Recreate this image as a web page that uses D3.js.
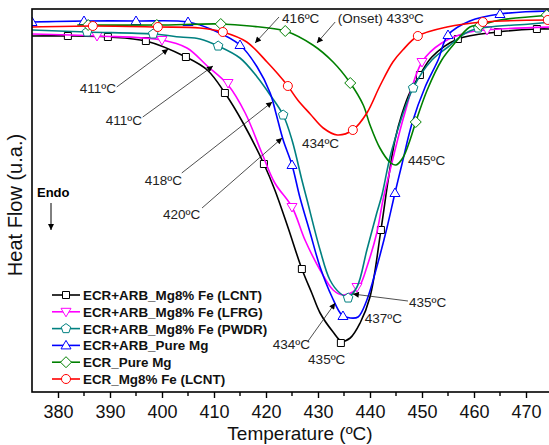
<!DOCTYPE html>
<html>
<head>
<meta charset="utf-8">
<script src="https://cdn.jsdelivr.net/npm/d3@7/dist/d3.min.js"></script>
<style>
  body { margin: 0; background: #fff; }
  svg { display: block; font-family: Arial, "Liberation Sans", sans-serif; }
</style>
</head>
<body>
<script>
// DSC curves: [temperature ºC, heat flow (u.a.)]
var lcntCurve = [[375,35.6],[381.9,35.6],[389.6,35.5],[396.9,35.1],[404.6,33.5],[408.7,32.2],[412.1,29.9],[415.6,26.9],[419.6,22.8],[421.7,20.2],[424.2,16.5],[426.9,12.3],[428.8,9.9],[430.4,7.9],[432.9,6.0],[434.5,5.1],[436.2,5.4],[438.1,6.9],[440,9.5],[442.1,16.2],[443.5,21.2],[444.8,25.2],[446.2,27.9],[447.7,30.0],[449.6,31.7],[451.9,33.5],[456.9,35.3],[464.6,36.0],[472.1,36.3],[475,36.3]];
var lfrgCurve = [[375,35.8],[387.5,35.6],[400,35.2],[404.8,34.4],[408.7,32.6],[412.7,30.7],[416,27.9],[419.2,23.9],[421.7,20.9],[425,18.5],[427.5,15.2],[430.4,12.2],[432.9,10.2],[434.8,9.7],[436.7,10.0],[438.1,10.7],[439.4,12.5],[441.3,15.9],[442.5,19.2],[444.2,22.9],[446.7,27.9],[450,33.0],[453.8,34.9],[459.2,36.0],[465,36.3],[475,36.5]];
var pwdrCurve = [[375,36.2],[385.6,36.0],[398.3,35.8],[403.5,35.5],[407.3,35.3],[410.8,34.6],[415,33.4],[418.3,31.5],[420.8,29.7],[423.3,27.7],[425,25.2],[426.9,21.2],[427.9,19.2],[430.4,14.2],[432.3,11.2],[434.2,9.9],[435.8,9.5],[437.5,10.5],[439.4,14.2],[441.3,17.9],[442.3,19.7],[444.2,24.2],[448.3,30.4],[451.9,33.2],[455,34.5],[459.2,36.1],[470.8,36.8],[475,37.0]];
var arbPureCurve = [[375,37.0],[385,37.1],[395,37.1],[405,37.0],[409.8,36.2],[415,34.7],[418.3,32.5],[420.8,29.9],[421.9,27.9],[423.3,25.2],[425,22.7],[426.5,19.5],[428.5,15.9],[430.4,12.5],[432.7,9.5],[434.6,7.7],[436.2,7.4],[437.7,7.5],[439.4,9.2],[441.3,12.5],[443.3,16.5],[444.8,19.9],[446.2,22.9],[448.1,26.9],[450.6,30.5],[453.1,33.2],[455,35.7],[459.2,37.1],[465,37.8],[475,38.1]];
var ecrPureCurve = [[383.7,36.7],[399,36.7],[411.3,36.8],[416.9,36.6],[423.7,36.1],[429,34.7],[432.9,33.0],[436.2,30.9],[438.7,28.7],[440,26.7],[441.9,24.4],[443.8,23.0],[445,22.7],[446.3,23.4],[447.7,25.2],[448.8,27.0],[451,30.2],[453.8,33.2],[456,34.7],[459.2,36.5],[461.2,36.7],[465,37.2],[475,37.7]];
var ecrLcntCurve = [[375,36.5],[386.7,36.6],[399.2,36.5],[407.3,36.4],[411.7,36.0],[416.3,35.0],[420.2,33.0],[422.3,31.8],[424.2,30.6],[426.1,29.2],[428.5,27.8],[431,26.4],[433.7,25.7],[436.7,26.2],[439.4,27.9],[441.9,30.6],[444.4,33.0],[446.3,34.2],[449.2,35.6],[454.8,36.5],[461.7,37.0],[475,37.2]];

// symbol positions
var lcntMarks = [[381.9,35.6],[389.6,35.5],[396.9,35.1],[404.6,33.5],[412.1,29.9],[419.6,22.8],[426.9,12.3],[434.4,4.9],[442.1,16.2],[449.6,31.7],[456.9,35.3],[464.6,36.0],[472.1,36.3]];
var lfrgMarks = [[387.5,35.6],[400,35.2],[412.7,30.9],[425,18.5],[437.5,10.5],[450,33.0],[462.5,36.2]];
var pwdrMarks = [[385.6,36.0],[398.3,35.8],[410.8,34.6],[423.3,27.7],[435.8,9.4],[448.3,30.4],[460.8,36.4]];
var arbPureMarks = [[375,37.0],[385,37.1],[395,37.1],[405,37.0],[415,34.7],[425,22.7],[434.8,7.6],[444.8,19.9],[455,35.7],[465,37.8]];
var ecrPureMarks = [[385.8,36.7],[399,36.7],[411.3,36.8],[423.7,36.1],[436.2,30.9],[448.8,27.0],[461.2,36.7],[474,37.7]];
var ecrLcntMarks = [[386.7,36.6],[399.2,36.5],[411.7,36.0],[424.2,30.6],[436.7,26.2],[449.2,35.6],[461.7,37.0],[474.2,37.2]];

var seriesNames = ["ECR+ARB_Mg8% Fe (LCNT)", "ECR+ARB_Mg8% Fe (LFRG)", "ECR+ARB_Mg8% Fe (PWDR)",
                   "ECR+ARB_Pure Mg", "ECR_Pure Mg", "ECR_Mg8% Fe (LCNT)"];
var xTicks = [380, 390, 400, 410, 420, 430, 440, 450, 460, 470];
var xMinorTicks = [385, 395, 405, 415, 425, 435, 445, 455, 465];

// peak / onset labels: text anchor and optional arrow [from, to]
var notes = [
    {t: "411ºC", at: [384.2, 29.9], arrow: [[391.3, 30.5], [401.2, 34.3]]},
    {t: "411ºC", at: [389.2, 26.7], arrow: [[396.3, 27.5], [409.8, 32.6]]},
    {t: "418ºC", at: [396.7, 20.7], arrow: [[403.8, 21.9], [421.2, 29.0]]},
    {t: "420ºC", at: [400.2, 17.3], arrow: [[407.7, 18.4], [423.1, 25.4]]},
    {t: "416ºC", at: [423.1, 36.9], arrow: [[422.5, 37.5], [417.9, 34.9]]},
    {t: "(Onset) 433ºC", at: [433.8, 36.9], arrow: [[433.3, 37.0], [429.8, 34.9]]},
    {t: "434ºC", at: [426.9, 24.4]},
    {t: "445ºC", at: [447.3, 22.7]},
    {t: "435ºC", at: [447.5, 8.5], arrow: [[447.3, 9.1], [436.7, 9.8]]},
    {t: "437ºC", at: [439.0, 6.9]},
    {t: "434ºC", at: [421.3, 4.3], arrow: [[428.1, 5.1], [433.3, 8.9]]},
    {t: "435ºC", at: [428.1, 2.8]}
];

function init() {
    var w = 549, h = 445;
    var left = 32, right = 552, top = 9, bottom = 392;

    var series = [
        {name: seriesNames[0], curve: lcntCurve, marks: lcntMarks, color: "#000000", shape: "square"},
        {name: seriesNames[1], curve: lfrgCurve, marks: lfrgMarks, color: "#ff00ff", shape: "tridown"},
        {name: seriesNames[2], curve: pwdrCurve, marks: pwdrMarks, color: "#008080", shape: "pentagon"},
        {name: seriesNames[3], curve: arbPureCurve, marks: arbPureMarks, color: "#0000ff", shape: "triup"},
        {name: seriesNames[4], curve: ecrPureCurve, marks: ecrPureMarks, color: "#008000", shape: "diamond"},
        {name: seriesNames[5], curve: ecrLcntCurve, marks: ecrLcntMarks, color: "#ff0000", shape: "circle"}
    ];

    var xScale = d3.scaleLinear().domain([375, 475]).range([left, right]);
    var yScale = d3.scaleLinear().domain([0, 38.3]).range([bottom, top]);

    var svg = d3.select("body").append("svg")
        .attr("width", w)
        .attr("height", h);

    var defs = svg.append("defs");
    defs.append("clipPath").attr("id", "plot")
        .append("rect")
        .attr("x", left).attr("y", top)
        .attr("width", right - left).attr("height", bottom - top);
    defs.append("marker")
        .attr("id", "head")
        .attr("viewBox", "0 0 10 10")
        .attr("refX", 10).attr("refY", 5)
        .attr("markerWidth", 8).attr("markerHeight", 6)
        .attr("markerUnits", "userSpaceOnUse")
        .attr("orient", "auto")
        .append("path")
        .attr("d", "M0,0L10,5L0,10Z")
        .attr("fill", "#000");

    // symbol paths
    function shapePath(shape) {
        if (shape == "square") return "M-3.5,-3.5H3.5V3.5H-3.5Z";
        if (shape == "tridown") return "M-5,-3.5L5,-3.5L0,5Z";
        if (shape == "triup") return "M-5,3.5L5,3.5L0,-5Z";
        if (shape == "diamond") return "M0,-5.5L5.5,0L0,5.5L-5.5,0Z";
        if (shape == "pentagon") {
            var pts = d3.range(5).map(function(i) {
                var a = -Math.PI / 2 + i * 2 * Math.PI / 5;
                return [5 * Math.cos(a), 5 * Math.sin(a)];
            });
            return "M" + pts.join("L") + "Z";
        }
        return d3.symbol().type(d3.symbolCircle).size(64)();
    }

    var line = d3.line()
        .x(function(d) { return xScale(d[0]); })
        .y(function(d) { return yScale(d[1]); })
        .curve(d3.curveCatmullRom.alpha(0.5));

    var plot = svg.append("g").attr("clip-path", "url(#plot)");

    var groups = plot.selectAll("g.series")
        .data(series)
        .enter()
        .append("g")
        .attr("class", "series");

    groups.append("path")
        .attr("d", function(d) { return line(d.curve); })
        .attr("fill", "none")
        .attr("stroke", function(d) { return d.color; })
        .attr("stroke-width", 1.6);

    groups.each(function(s) {
        d3.select(this).selectAll("path.mk")
            .data(s.marks)
            .enter()
            .append("path")
            .attr("class", "mk")
            .attr("transform", function(d) { return "translate(" + xScale(d[0]) + "," + yScale(d[1]) + ")"; })
            .attr("d", shapePath(s.shape))
            .attr("fill", "#fff")
            .attr("stroke", s.color)
            .attr("stroke-width", 1);
    });

    // frame
    svg.append("rect")
        .attr("x", left).attr("y", top)
        .attr("width", right - left).attr("height", bottom - top)
        .attr("fill", "none")
        .attr("stroke", "#000")
        .attr("stroke-width", 1.6);

    // x axis
    var xAxis = svg.append("g")
        .attr("transform", "translate(0," + bottom + ")")
        .call(d3.axisBottom(xScale).tickValues(xTicks).tickSize(6).tickPadding(7).tickSizeOuter(0));
    xAxis.select(".domain").remove();
    xAxis.selectAll("line").attr("stroke-width", 1.4);
    xAxis.selectAll("text")
        .attr("font-size", 18)
        .attr("font-family", "Arial, 'Liberation Sans', sans-serif")
        .attr("fill", "#111");
    xAxis.selectAll("line.minor")
        .data(xMinorTicks)
        .enter()
        .append("line")
        .attr("class", "minor")
        .attr("x1", function(d) { return xScale(d); })
        .attr("x2", function(d) { return xScale(d); })
        .attr("y1", 0).attr("y2", 4)
        .attr("stroke", "#000")
        .attr("stroke-width", 1.4);

    svg.append("text")
        .attr("x", 300).attr("y", 440)
        .attr("text-anchor", "middle")
        .attr("font-size", 19)
        .attr("fill", "#111")
        .text("Temperature (ºC)");

    svg.append("text")
        .attr("transform", "translate(22,205) rotate(-90)")
        .attr("text-anchor", "middle")
        .attr("font-size", 20)
        .attr("fill", "#111")
        .text("Heat Flow (u.a.)");

    // endo marker
    svg.append("text")
        .attr("x", 37).attr("y", 197)
        .attr("font-size", 13)
        .attr("font-weight", "bold")
        .text("Endo");
    svg.append("line")
        .attr("x1", 51).attr("y1", 203)
        .attr("x2", 51).attr("y2", 230)
        .attr("stroke", "#000")
        .attr("stroke-width", 1)
        .attr("marker-end", "url(#head)");

    // annotations
    notes.forEach(function(n) {
        if (n.arrow) {
            svg.append("line")
                .attr("x1", xScale(n.arrow[0][0])).attr("y1", yScale(n.arrow[0][1]))
                .attr("x2", xScale(n.arrow[1][0])).attr("y2", yScale(n.arrow[1][1]))
                .attr("stroke", "#222")
                .attr("stroke-width", 0.8)
                .attr("marker-end", "url(#head)");
        }
        svg.append("text")
            .attr("x", xScale(n.at[0])).attr("y", yScale(n.at[1]))
            .attr("font-size", 13.5)
            .attr("fill", "#222")
            .text(n.t);
    });

    // legend
    var legend = svg.append("g");
    var rows = legend.selectAll("g")
        .data(series)
        .enter()
        .append("g")
        .attr("transform", function(d, i) { return "translate(0," + (295 + i * 16.8) + ")"; });
    rows.append("line")
        .attr("x1", 52).attr("x2", 80)
        .attr("stroke", function(d) { return d.color; })
        .attr("stroke-width", 1.6);
    rows.append("path")
        .attr("transform", "translate(66,0)")
        .attr("d", function(d) { return shapePath(d.shape); })
        .attr("fill", "#fff")
        .attr("stroke", function(d) { return d.color; });
    rows.append("text")
        .attr("x", 83).attr("y", 5)
        .attr("font-size", 13.4)
        .attr("font-weight", "bold")
        .attr("fill", "#111")
        .text(function(d) { return d.name; });
}

window.onload = init;
</script>
</body>
</html>
